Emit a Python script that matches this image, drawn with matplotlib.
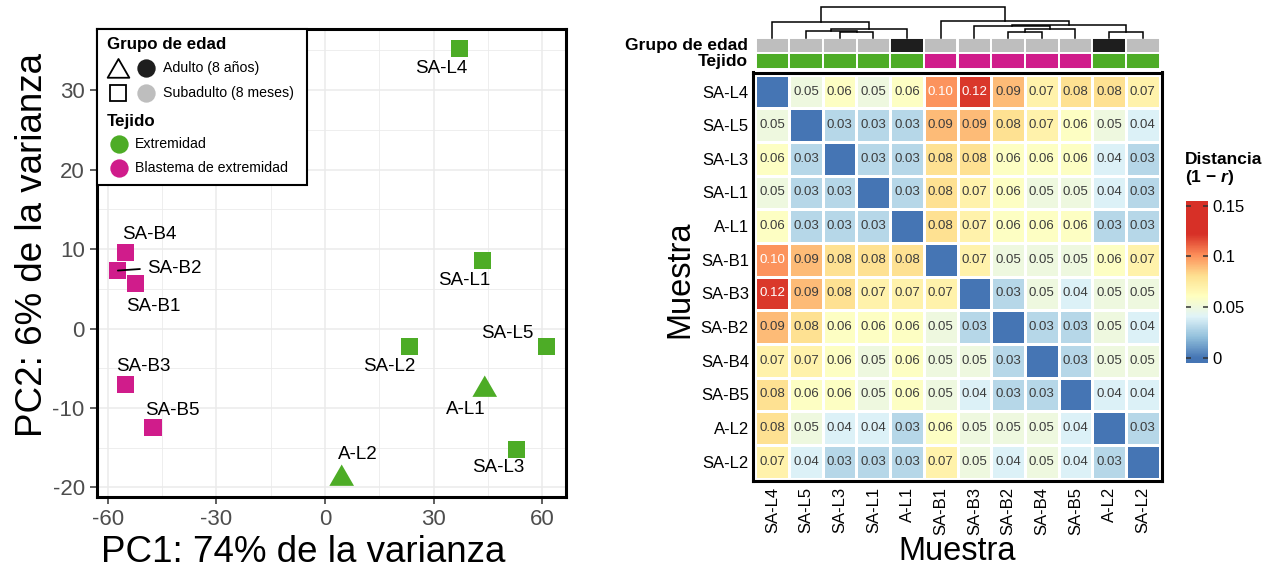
import numpy as np
import matplotlib.pyplot as plt
from matplotlib.colors import LinearSegmentedColormap, Normalize
from matplotlib.patches import Rectangle
from matplotlib.path import Path
from matplotlib.ticker import MultipleLocator

plt.rcParams['font.family'] = ['Liberation Sans', 'DejaVu Sans']
plt.rcParams['axes.unicode_minus'] = False
plt.rcParams['mathtext.fontset'] = 'custom'
plt.rcParams['mathtext.it'] = 'Liberation Sans:italic:bold'

W, H, DPI = 1274, 569, 100

# PCA scores per sample
samples = ['SA-L4', 'SA-L1', 'SA-L5', 'SA-L2', 'A-L1', 'SA-L3', 'A-L2',
           'SA-B4', 'SA-B2', 'SA-B1', 'SA-B3', 'SA-B5']
pc1 = [37.1, 43.6, 61.2, 23.2, 44.1, 52.8, 4.6, -55.1, -57.2, -52.3, -55.1, -47.5]
pc2 = [35.2, 8.6, -2.3, -2.2, -7.7, -15.2, -18.9, 9.6, 7.3, 5.7, -7.0, -12.5]
age = ['Subadulto (8 meses)'] * 4 + ['Adulto (8 años)', 'Subadulto (8 meses)', 'Adulto (8 años)'] \
    + ['Subadulto (8 meses)'] * 5
tissue = ['Extremidad'] * 7 + ['Blastema de extremidad'] * 5

# distance matrix (1 - r), samples in clustered order
hm_samples = ['SA-L4', 'SA-L5', 'SA-L3', 'SA-L1', 'A-L1', 'SA-B1',
              'SA-B3', 'SA-B2', 'SA-B4', 'SA-B5', 'A-L2', 'SA-L2']
hm_age = ['Subadulto (8 meses)'] * 4 + ['Adulto (8 años)'] + ['Subadulto (8 meses)'] * 5 \
    + ['Adulto (8 años)', 'Subadulto (8 meses)']
hm_tissue = ['Extremidad'] * 5 + ['Blastema de extremidad'] * 5 + ['Extremidad'] * 2
dist = np.array([
    [0.00, 0.05, 0.06, 0.05, 0.06, 0.10, 0.12, 0.09, 0.07, 0.08, 0.08, 0.07],
    [0.05, 0.00, 0.03, 0.03, 0.03, 0.09, 0.09, 0.08, 0.07, 0.06, 0.05, 0.04],
    [0.06, 0.03, 0.00, 0.03, 0.03, 0.08, 0.08, 0.06, 0.06, 0.06, 0.04, 0.03],
    [0.05, 0.03, 0.03, 0.00, 0.03, 0.08, 0.07, 0.06, 0.05, 0.05, 0.04, 0.03],
    [0.06, 0.03, 0.03, 0.03, 0.00, 0.08, 0.07, 0.06, 0.06, 0.06, 0.03, 0.03],
    [0.10, 0.09, 0.08, 0.08, 0.08, 0.00, 0.07, 0.05, 0.05, 0.05, 0.06, 0.07],
    [0.12, 0.09, 0.08, 0.07, 0.07, 0.07, 0.00, 0.03, 0.05, 0.04, 0.05, 0.05],
    [0.09, 0.08, 0.06, 0.06, 0.06, 0.05, 0.03, 0.00, 0.03, 0.03, 0.05, 0.04],
    [0.07, 0.07, 0.06, 0.05, 0.06, 0.05, 0.05, 0.03, 0.00, 0.03, 0.05, 0.05],
    [0.08, 0.06, 0.06, 0.05, 0.06, 0.05, 0.04, 0.03, 0.03, 0.00, 0.04, 0.04],
    [0.08, 0.05, 0.04, 0.04, 0.03, 0.06, 0.05, 0.05, 0.05, 0.04, 0.00, 0.03],
    [0.07, 0.04, 0.03, 0.03, 0.03, 0.07, 0.05, 0.04, 0.05, 0.04, 0.03, 0.00],
])

# column dendrogram: (child a, child b, height), leaves are 0..11, new nodes 12..
merges = [
    (2, 3, 0.19), (1, 12, 0.21), (13, 4, 0.27), (0, 14, 0.50),
    (7, 8, 0.19), (16, 9, 0.26), (6, 17, 0.37), (10, 11, 0.19),
    (18, 19, 0.41), (5, 20, 0.54), (15, 21, 1.00),
]

GREEN, MAGENTA = '#4DAC26', '#D01C8B'
GREY, DARK = '#BEBEBE', '#1E1E1E'
tissue_colors = {'Extremidad': GREEN, 'Blastema de extremidad': MAGENTA}
age_colors = {'Adulto (8 años)': DARK, 'Subadulto (8 meses)': GREY}

# R-style triangle, centred on its centroid
TRI = Path([(0, 1.555), (-1.347, -0.778), (1.347, -0.778), (0, 1.555)], closed=True)
age_markers = {'Adulto (8 años)': TRI, 'Subadulto (8 meses)': 's'}
age_sizes = {'Adulto (8 años)': 420, 'Subadulto (8 meses)': 150}

# where each repelled label sits relative to its point (pixels, y down)
label_offsets = {
    'SA-L4': (-18, 20), 'SA-L1': (-19, 20), 'SA-L5': (-39, -13), 'SA-L2': (-20, 20),
    'A-L1': (-19, 20), 'SA-L3': (-18, 18), 'A-L2': (16, -24), 'SA-B4': (24, -18),
    'SA-B2': (29, -2), 'SA-B1': (18, 23), 'SA-B3': (18, -18), 'SA-B5': (19, -17),
}

# diverging palette (pheatmap default) placed on the distance scale
cmap_stops = [(-0.0046, '#4575B4'), (0.0, '#4575B4'), (0.0203, '#91BFDB'),
              (0.0407, '#E0F3F8'), (0.061, '#FFFFBF'), (0.081, '#FEE090'),
              (0.1017, '#FC8D59'), (0.122, '#D73027'), (0.1546, '#D73027')]
vmin, vmax = cmap_stops[0][0], cmap_stops[-1][0]
cmap = LinearSegmentedColormap.from_list(
    'dist', [((v - vmin) / (vmax - vmin), c) for v, c in cmap_stops])
norm = Normalize(vmin, vmax)

fig = plt.figure(figsize=(W / DPI, H / DPI), dpi=DPI)


def px_axes(x0, y0, x1, y1, **kw):
    return fig.add_axes([x0 / W, 1 - y1 / H, (x1 - x0) / W, (y1 - y0) / H], **kw)


# ---------------- PCA panel ----------------
ax = px_axes(96.5, 29, 565.5, 497)
ax.set_xlim(-63.1, 66.4)
ax.set_ylim(-21.2, 37.7)
ax.xaxis.set_major_locator(MultipleLocator(30))
ax.xaxis.set_minor_locator(MultipleLocator(15))
ax.yaxis.set_major_locator(MultipleLocator(10))
ax.yaxis.set_minor_locator(MultipleLocator(5))
ax.grid(which='major', color='#EBEBEB', lw=1.1)
ax.grid(which='minor', color='#EBEBEB', lw=0.6)
ax.set_axisbelow(True)
for sp in ax.spines.values():
    sp.set_linewidth(2.2)
ax.tick_params(which='major', labelsize=16, labelcolor='#4D4D4D', color='#333333',
               length=5, width=1.1)
ax.tick_params(which='minor', length=0)

x = np.array(pc1)
y = np.array(pc2)
ages = np.array(age)
cols = np.array([tissue_colors[t] for t in tissue])
for grp, mk in age_markers.items():
    m = ages == grp
    ax.scatter(x[m], y[m], marker=mk, s=age_sizes[grp], c=cols[m], linewidths=0, zorder=3)

for name, xi, yi in zip(samples, x, y):
    dx, dy = label_offsets[name]
    if name == 'SA-B2':
        ax.annotate(name, (xi, yi), xytext=(dx, -dy), textcoords='offset pixels',
                    ha='left', va='center', fontsize=13.5, zorder=4,
                    arrowprops=dict(arrowstyle='-', color='black', lw=1.3,
                                    shrinkA=3, shrinkB=0, relpos=(0, 0.5)))
    else:
        ax.annotate(name, (xi, yi), xytext=(dx, -dy), textcoords='offset pixels',
                    ha='center', va='center', fontsize=13.5, zorder=4)

# ---------------- heatmap ----------------
n = len(hm_samples)
pad = 0.065
hm = px_axes(753.3, 72.5, 1161.7, 480.8)
mesh = hm.pcolormesh(np.arange(n + 1), np.arange(n + 1), dist, cmap=cmap, norm=norm,
                     edgecolors='white', linewidth=1.0)
hm.set_xlim(-pad, n + pad)
hm.set_ylim(n + pad, -pad)
for sp in hm.spines.values():
    sp.set_linewidth(2.2)
for i in range(n):
    for j in range(n):
        if i == j:
            continue
        v = dist[i, j]
        hm.text(j + 0.5, i + 0.5, f'{v:.2f}', ha='center', va='center', fontsize=9.5,
                color='white' if v >= 0.10 else '#3C3C3C')
hm.set_xticks(np.arange(n) + 0.5)
hm.set_yticks(np.arange(n) + 0.5)
hm.set_xticklabels(hm_samples, rotation=90, fontsize=12)
hm.set_yticklabels(hm_samples, fontsize=12)
hm.tick_params(axis='x', length=0, pad=4.2)
hm.tick_params(axis='y', length=0, pad=3.2)

# annotation strips
ann = px_axes(755.5, 37.5, 1159.5, 69.2)
ann.bar(np.arange(n) + 0.5, 1, bottom=0, width=1, color=[age_colors[a] for a in hm_age],
        edgecolor='white', linewidth=1.4)
ann.bar(np.arange(n) + 0.5, 1, bottom=1, width=1, color=[tissue_colors[t] for t in hm_tissue],
        edgecolor='white', linewidth=1.4)
ann.set_xlim(0, n)
ann.set_ylim(2, 0)
ann.axis('off')

# dendrogram
den = px_axes(755.5, 6.7, 1159.5, 37.5)
xpos = {i: i + 0.5 for i in range(n)}
hpos = {i: 0.0 for i in range(n)}
for k, (a, b, h) in enumerate(merges):
    den.plot([xpos[a], xpos[a], xpos[b], xpos[b]], [hpos[a], h, h, hpos[b]],
             color='black', lw=1.1, clip_on=False, solid_joinstyle='miter')
    xpos[n + k] = (xpos[a] + xpos[b]) / 2
    hpos[n + k] = h
den.set_xlim(0, n)
den.set_ylim(0, 1)
den.axis('off')

# colour bar
cax = px_axes(1185.7, 201, 1208.3, 362.7)
cb = fig.colorbar(mesh, cax=cax, ticks=[0, 0.05, 0.1, 0.15])
cb.outline.set_visible(False)
cax.set_yticklabels(['0', '0.05', '0.1', '0.15'])
cax.tick_params(direction='in', length=3.5, width=1.1, color='#333333', left=True,
                right=True, labelsize=12, pad=3)

# ---------------- overlay: titles and legend ----------------
ov = fig.add_axes([0, 0, 1, 1])
ov.set_xlim(0, W)
ov.set_ylim(H, 0)
ov.axis('off')

ov.text(303, 553, 'PC1: 74% de la varianza', ha='center', va='center', fontsize=26.5)
ov.text(33, 245, 'PC2: 6% de la varianza', ha='center', va='center', fontsize=26.5,
        rotation=90)
ov.text(957, 552, 'Muestra', ha='center', va='center', fontsize=23.5)
ov.text(680, 279, 'Muestra', ha='center', va='center', fontsize=23.5, rotation=90)
ov.text(748, 45, 'Grupo de edad', ha='right', va='center', fontsize=12.5, weight='bold')
ov.text(748, 61.5, 'Tejido', ha='right', va='center', fontsize=12.5, weight='bold')
ov.text(1185, 159, 'Distancia', ha='left', va='center', fontsize=12.5, weight='bold')
ov.text(1185, 177, '(1 − $r$)', ha='left', va='center', fontsize=12.5, weight='bold')

ov.add_patch(Rectangle((97, 28.5), 210, 156.5, facecolor='white', edgecolor='black', lw=1.5))
ov.text(107, 44, 'Grupo de edad', ha='left', va='center', fontsize=12.2, weight='bold')
ov.plot(118.3, 71, marker=TRI, ms=18, mfc='white', mec='black', mew=1.3)
ov.plot(118.3, 93.3, marker='s', ms=11.5, mfc='white', mec='black', mew=1.3)
for yy, grp in zip([68.3, 93.3], ['Adulto (8 años)', 'Subadulto (8 meses)']):
    ov.plot(146, yy, marker='o', ms=13.2, color=age_colors[grp], mew=0)
    ov.text(162.7, yy, grp, ha='left', va='center', fontsize=10.2)
ov.text(107, 121, 'Tejido', ha='left', va='center', fontsize=12.2, weight='bold')
for yy, t in zip([144.3, 167.7], ['Extremidad', 'Blastema de extremidad']):
    ov.plot(119.3, yy, marker='o', ms=13.2, color=tissue_colors[t], mew=0)
    ov.text(135, yy, t, ha='left', va='center', fontsize=10.2)

fig.savefig('out.png', dpi=DPI)
